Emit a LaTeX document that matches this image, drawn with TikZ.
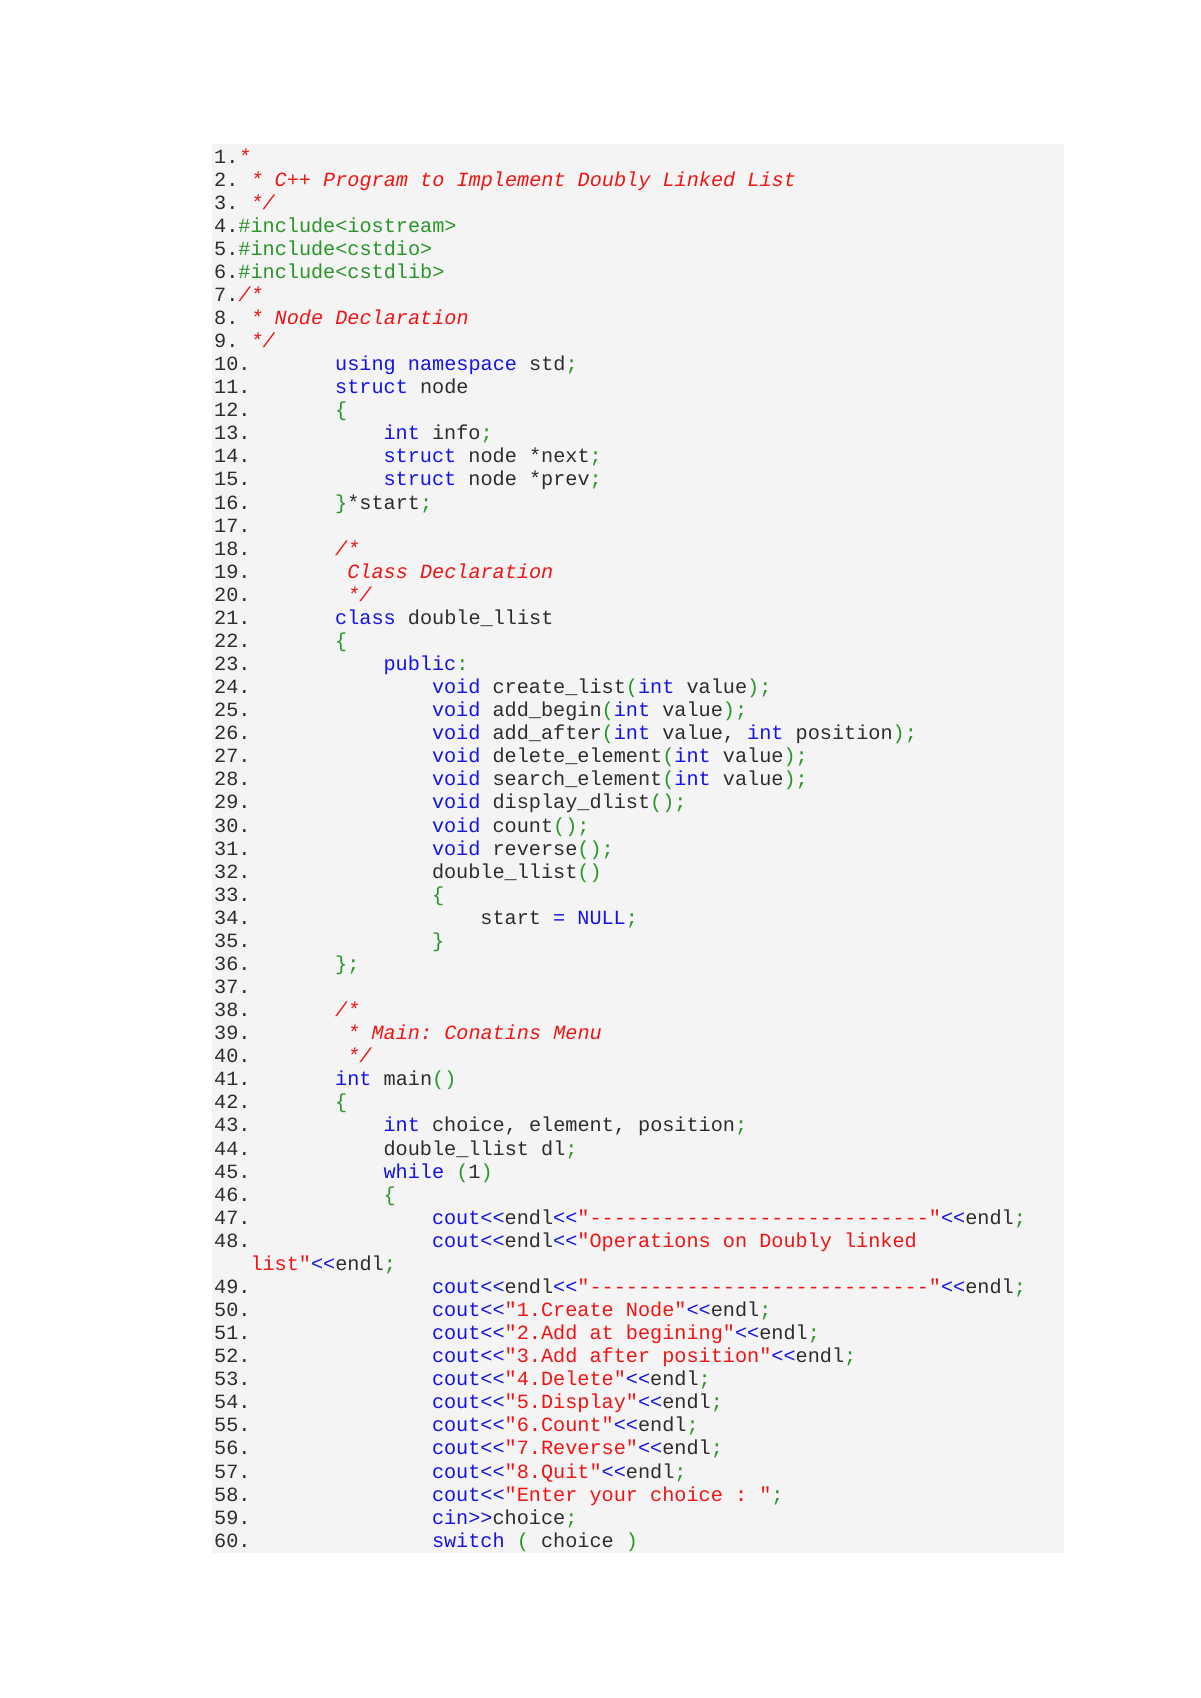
\documentclass[tikz,border=0pt]{standalone}
\usepackage{fontspec}
\setmonofont{Liberation Mono}
\definecolor{kw}{RGB}{20,20,230}
\definecolor{cm}{RGB}{240,20,20}
\definecolor{gr}{RGB}{40,150,40}
\definecolor{tx}{RGB}{45,45,45}
\definecolor{bg}{RGB}{244,244,244}
\newcommand{\K}[1]{\textcolor{kw}{#1}}
\newcommand{\C}[1]{\textcolor{cm}{\itshape #1}}
\newcommand{\Sx}[1]{\textcolor{cm}{#1}}
\newcommand{\G}[1]{\textcolor{gr}{#1}}
\newcommand{\LN}[3]{\node[code] (r#1) at ({214+12.1*#2},{-(163+23.07*#1)}) {#3};}
\newcommand{\NUM}[2]{\node[code] (n#1) at (214,{-(163+23.07*#1)}) {#2};}
\begin{document}
\begin{tikzpicture}[x=1pt,y=1pt,
  code/.style={anchor=base west,inner sep=0pt,font=\ttfamily\fontsize{20.2}{24}\selectfont,text=tx}]
\useasboundingbox (0,0) rectangle (1200,-1698);
\fill[bg] (212,-144) rectangle (1064,-1553);
% line numbers
\foreach \n in {1,...,9}{\pgfmathtruncatemacro\r{\n-1}\NUM{\r}{\n.}}
\foreach \n in {10,...,48}{\pgfmathtruncatemacro\r{\n-1}\NUM{\r}{\n.}}
\foreach \n in {49,...,60}{\NUM{\n}{\n.}}
% content
\LN{0}{2}{\C{*}}
\LN{1}{3}{\C{* C++ Program to Implement Doubly Linked List}}
\LN{2}{3}{\C{*/}}
\LN{3}{2}{\G{\#include<iostream>}}
\LN{4}{2}{\G{\#include<cstdio>}}
\LN{5}{2}{\G{\#include<cstdlib>}}
\LN{6}{2}{\C{/*}}
\LN{7}{3}{\C{* Node Declaration}}
\LN{8}{3}{\C{*/}}
\LN{9}{10}{\K{using namespace} std\G{;}}
\LN{10}{10}{\K{struct} node}
\LN{11}{10}{\G{\{}}
\LN{12}{14}{\K{int} info\G{;}}
\LN{13}{14}{\K{struct} node *next\G{;}}
\LN{14}{14}{\K{struct} node *prev\G{;}}
\LN{15}{10}{\G{\}}*start\G{;}}
\LN{17}{10}{\C{/*}}
\LN{18}{11}{\C{Class Declaration}}
\LN{19}{11}{\C{*/}}
\LN{20}{10}{\K{class} double\_llist}
\LN{21}{10}{\G{\{}}
\LN{22}{14}{\K{public}\G{:}}
\LN{23}{18}{\K{void} create\_list\G{(}\K{int} value\G{);}}
\LN{24}{18}{\K{void} add\_begin\G{(}\K{int} value\G{);}}
\LN{25}{18}{\K{void} add\_after\G{(}\K{int} value, \K{int} position\G{);}}
\LN{26}{18}{\K{void} delete\_element\G{(}\K{int} value\G{);}}
\LN{27}{18}{\K{void} search\_element\G{(}\K{int} value\G{);}}
\LN{28}{18}{\K{void} display\_dlist\G{();}}
\LN{29}{18}{\K{void} count\G{();}}
\LN{30}{18}{\K{void} reverse\G{();}}
\LN{31}{18}{double\_llist\G{()}}
\LN{32}{18}{\G{\{}}
\LN{33}{22}{start \K{=} \K{NULL}\G{;}}
\LN{34}{18}{\G{\}}}
\LN{35}{10}{\G{\};}}
\LN{37}{10}{\C{/*}}
\LN{38}{11}{\C{* Main: Conatins Menu}}
\LN{39}{11}{\C{*/}}
\LN{40}{10}{\K{int} main\G{()}}
\LN{41}{10}{\G{\{}}
\LN{42}{14}{\K{int} choice, element, position\G{;}}
\LN{43}{14}{double\_llist dl\G{;}}
\LN{44}{14}{\K{while} \G{(}1\G{)}}
\LN{45}{14}{\G{\{}}
\LN{46}{18}{\K{cout<<}endl\K{<<}\Sx{"----------------------------"}\K{<<}endl\G{;}}
\LN{47}{18}{\K{cout<<}endl\K{<<}\Sx{"Operations on Doubly linked}}
\LN{48}{3}{\Sx{list"}\K{<<}endl\G{;}}
\LN{49}{18}{\K{cout<<}endl\K{<<}\Sx{"----------------------------"}\K{<<}endl\G{;}}
\LN{50}{18}{\K{cout<<}\Sx{"1.Create Node"}\K{<<}endl\G{;}}
\LN{51}{18}{\K{cout<<}\Sx{"2.Add at begining"}\K{<<}endl\G{;}}
\LN{52}{18}{\K{cout<<}\Sx{"3.Add after position"}\K{<<}endl\G{;}}
\LN{53}{18}{\K{cout<<}\Sx{"4.Delete"}\K{<<}endl\G{;}}
\LN{54}{18}{\K{cout<<}\Sx{"5.Display"}\K{<<}endl\G{;}}
\LN{55}{18}{\K{cout<<}\Sx{"6.Count"}\K{<<}endl\G{;}}
\LN{56}{18}{\K{cout<<}\Sx{"7.Reverse"}\K{<<}endl\G{;}}
\LN{57}{18}{\K{cout<<}\Sx{"8.Quit"}\K{<<}endl\G{;}}
\LN{58}{18}{\K{cout<<}\Sx{"Enter your choice : "}\G{;}}
\LN{59}{18}{\K{cin>>}choice\G{;}}
\LN{60}{18}{\K{switch} \G{(} choice \G{)}}
\end{tikzpicture}
\end{document}
